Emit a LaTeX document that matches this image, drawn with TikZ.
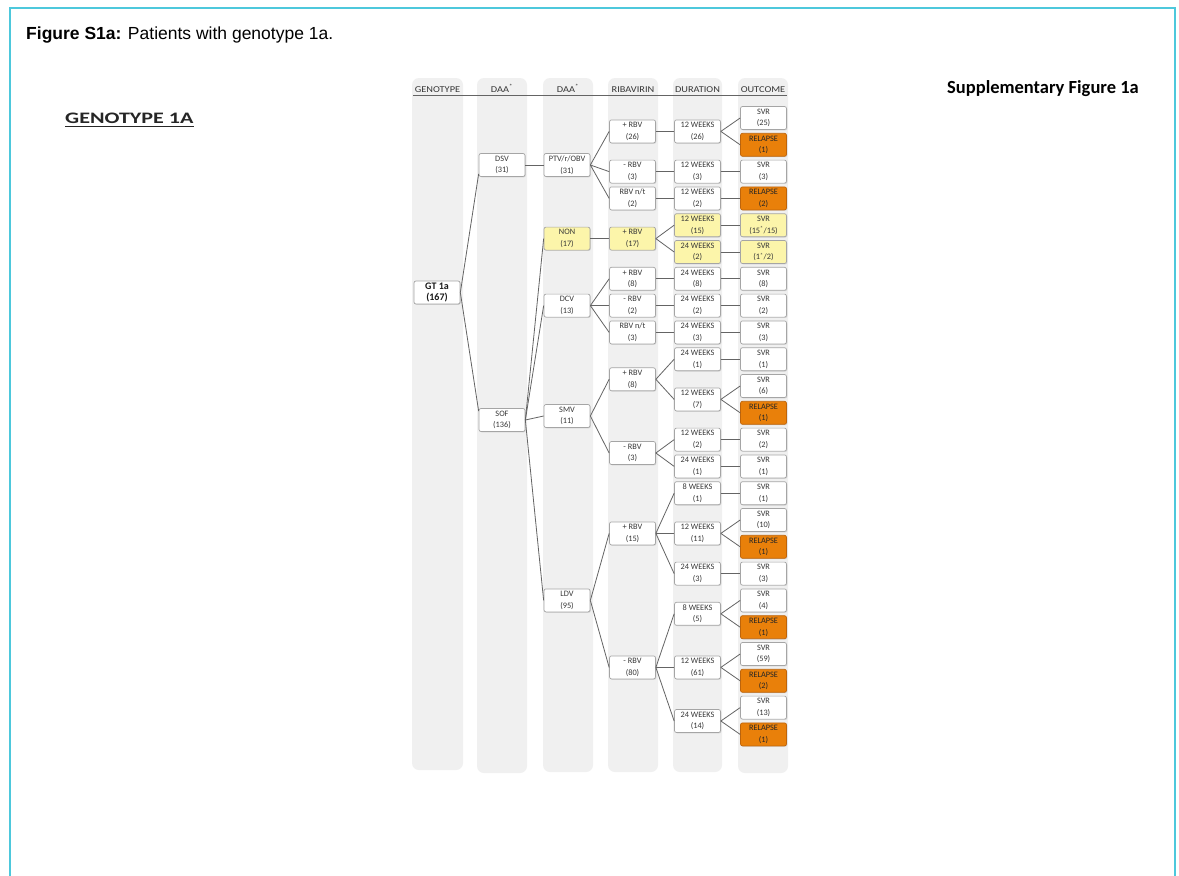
\documentclass[tikz,border=0pt]{standalone}
\usepackage{fontspec}
\setmainfont{Carlito}
\newfontfamily\arialf{Liberation Sans}
\newfontfamily\hdrf[FakeStretch=1.15]{Carlito}
\newfontfamily\gtitlef[FakeStretch=1.38]{Carlito}
\usetikzlibrary{calc,shadows}
\definecolor{framecyan}{RGB}{77,200,220}
\definecolor{colgray}{RGB}{240,240,240}
\definecolor{boxdraw}{RGB}{165,165,165}
\definecolor{linegray}{RGB}{100,100,100}
\definecolor{yelfill}{RGB}{252,245,170}
\definecolor{orfill}{RGB}{233,128,10}
\definecolor{ordraw}{RGB}{190,100,10}
\definecolor{hdrtext}{RGB}{55,55,55}
\begin{document}
\begin{tikzpicture}[x=1pt,y=-1pt,
  box/.style={draw=boxdraw, fill=white, rounded corners=2pt, line width=0.7pt,
    minimum width=46pt, minimum height=23pt, inner sep=0pt, align=center,
    font=\fontsize{8.3}{11.7}\selectfont, text=black!78,
    drop shadow={opacity=0.25, shadow xshift=0.8pt, shadow yshift=-0.8pt}},
  yel/.style={box, fill=yelfill},
  rel/.style={box, fill=orfill, draw=ordraw, text=black!85},
  conn/.style={draw=linegray, line width=0.8pt},
  colbg/.style={fill=colgray, rounded corners=7pt},
  hdr/.style={font=\hdrf\fontsize{9}{10}\selectfont, text=hdrtext, inner sep=0pt, anchor=base}]
\useasboundingbox (0,0) rectangle (1179,876);
\fill[white] (0,0) rectangle (1179,876);
% frame
\draw[framecyan, line width=1.5pt] (10,876) -- (10,8) -- (1175,8) -- (1175,876);
% titles
\node[anchor=base west, inner sep=0pt, font=\arialf\fontsize{17.5}{20}\selectfont] (title) at (26,39) {\textbf{Figure S1a:} Patients with genotype 1a.};
\node[anchor=base west, inner sep=0pt, font=\gtitlef\bfseries\fontsize{16}{18}\selectfont, text=black!85] (g1a) at (65,123) {GENOTYPE 1A};
\draw[black!85, line width=1.3pt] ($(g1a.base west)+(0,3.5)$) -- ($(g1a.base east)+(0,3.5)$);
\node[anchor=base west, inner sep=0pt, font=\bfseries\fontsize{18.5}{20}\selectfont] (supp) at (947,93) {Supplementary Figure 1a};
% columns
\path[colbg] (412,78) rectangle (463,770);
\path[colbg] (477,78) rectangle (527,773);
\path[colbg] (543,78) rectangle (593,772);
\path[colbg] (608,78) rectangle (658,772);
\path[colbg] (673,78) rectangle (722,772);
\path[colbg] (738,78) rectangle (788,773);
% headers
\node[hdr] (h1) at (437.5,92) {GENOTYPE};
\node[hdr] (h2) at (502,92) {DAA\textsuperscript{*}};
\node[hdr] (h3) at (568,92) {DAA\textsuperscript{*}};
\node[hdr] (h4) at (633,92) {RIBAVIRIN};
\node[hdr] (h5) at (697.5,92) {DURATION};
\node[hdr] (h6) at (763,92) {OUTCOME};
\draw[linegray, line width=0.8pt] (413,95.5) -- (787,95.5);
% genotype / DAA
\node[box, font=\bfseries\fontsize{10}{11.7}\selectfont, text=black!90] (gt) at (437,292.5) {GT 1a\\(167)};
\node[box] (dsv) at (502,165) {DSV\\(31)};
\node[box] (sof) at (502,420) {SOF\\(136)};
\node[box] (ptv) at (567,165) {PTV/r/OBV\\(31)};
\node[yel] (non) at (567,238.6) {NON\\(17)};
\node[box] (dcv) at (567,305.6) {DCV\\(13)};
\node[box] (smv) at (567,416) {SMV\\(11)};
\node[box] (ldv) at (567,600.4) {LDV\\(95)};
% ribavirin
\node[box] (b1) at (632.5,131.4) {+ RBV\\(26)};
\node[box] (b2) at (632.5,171.6) {- RBV\\(3)};
\node[box] (b3) at (632.5,198.4) {RBV n/t\\(2)};
\node[yel] (b4) at (632.5,238.6) {+ RBV\\(17)};
\node[box] (b5) at (632.5,278.8) {+ RBV\\(8)};
\node[box] (b6) at (632.5,305.6) {- RBV\\(2)};
\node[box] (b7) at (632.5,332.4) {RBV n/t\\(3)};
\node[box] (b8) at (632.5,379.3) {+ RBV\\(8)};
\node[box] (b9) at (632.5,453) {- RBV\\(3)};
\node[box] (b10) at (632.5,533.4) {+ RBV\\(15)};
\node[box] (b11) at (632.5,667.4) {- RBV\\(80)};
% duration
\node[box] (d1) at (697.5,131.4) {12 WEEKS\\(26)};
\node[box] (d2) at (697.5,171.6) {12 WEEKS\\(3)};
\node[box] (d3) at (697.5,198.4) {12 WEEKS\\(2)};
\node[yel] (d4) at (697.5,225.2) {12 WEEKS\\(15)};
\node[yel] (d5) at (697.5,252) {24 WEEKS\\(2)};
\node[box] (d6) at (697.5,278.8) {24 WEEKS\\(8)};
\node[box] (d7) at (697.5,305.6) {24 WEEKS\\(2)};
\node[box] (d8) at (697.5,332.4) {24 WEEKS\\(3)};
\node[box] (d9) at (697.5,359.2) {24 WEEKS\\(1)};
\node[box] (d10) at (697.5,399.4) {12 WEEKS\\(7)};
\node[box] (d11) at (697.5,439.6) {12 WEEKS\\(2)};
\node[box] (d12) at (697.5,466.4) {24 WEEKS\\(1)};
\node[box] (d13) at (697.5,493.2) {8 WEEKS\\(1)};
\node[box] (d14) at (697.5,533.4) {12 WEEKS\\(11)};
\node[box] (d15) at (697.5,573.6) {24 WEEKS\\(3)};
\node[box] (d16) at (697.5,613.8) {8 WEEKS\\(5)};
\node[box] (d17) at (697.5,667.4) {12 WEEKS\\(61)};
\node[box] (d18) at (697.5,721) {24 WEEKS\\(14)};
% outcome
\node[box] (o1) at (763.5,118) {SVR\\(25)};
\node[rel] (o2) at (763.5,144.8) {RELAPSE\\(1)};
\node[box] (o3) at (763.5,171.6) {SVR\\(3)};
\node[rel] (o4) at (763.5,198.4) {RELAPSE\\(2)};
\node[yel] (o5) at (763.5,225.2) {SVR\\(15\textsuperscript{*}/15)};
\node[yel] (o6) at (763.5,252) {SVR\\(1\textsuperscript{*}/2)};
\node[box] (o7) at (763.5,278.8) {SVR\\(8)};
\node[box] (o8) at (763.5,305.6) {SVR\\(2)};
\node[box] (o9) at (763.5,332.4) {SVR\\(3)};
\node[box] (o10) at (763.5,359.2) {SVR\\(1)};
\node[box] (o11) at (763.5,386) {SVR\\(6)};
\node[rel] (o12) at (763.5,412.8) {RELAPSE\\(1)};
\node[box] (o13) at (763.5,439.6) {SVR\\(2)};
\node[box] (o14) at (763.5,466.4) {SVR\\(1)};
\node[box] (o15) at (763.5,493.2) {SVR\\(1)};
\node[box] (o16) at (763.5,520) {SVR\\(10)};
\node[rel] (o17) at (763.5,546.8) {RELAPSE\\(1)};
\node[box] (o18) at (763.5,573.6) {SVR\\(3)};
\node[box] (o19) at (763.5,600.4) {SVR\\(4)};
\node[rel] (o20) at (763.5,627.2) {RELAPSE\\(1)};
\node[box] (o21) at (763.5,654) {SVR\\(59)};
\node[rel] (o22) at (763.5,680.8) {RELAPSE\\(2)};
\node[box] (o23) at (763.5,707.6) {SVR\\(13)};
\node[rel] (o24) at (763.5,734.4) {RELAPSE\\(1)};
% connectors
\draw[conn] (gt.east) -- ($(dsv.west)!0.75!(dsv.south west)$);
\draw[conn] (gt.east) -- ($(sof.west)!0.75!(sof.north west)$);
\foreach \a/\b in {dsv/ptv, sof/non, sof/dcv, sof/smv, sof/ldv,
  ptv/b1, ptv/b2, ptv/b3, non/b4, dcv/b5, dcv/b6, dcv/b7, smv/b8, smv/b9, ldv/b10, ldv/b11,
  b1/d1, b2/d2, b3/d3, b4/d4, b4/d5, b5/d6, b6/d7, b7/d8, b8/d9, b8/d10, b9/d11, b9/d12,
  b10/d13, b10/d14, b10/d15, b11/d16, b11/d17, b11/d18,
  d1/o1, d1/o2, d2/o3, d3/o4, d4/o5, d5/o6, d6/o7, d7/o8, d8/o9, d9/o10, d10/o11, d10/o12,
  d11/o13, d12/o14, d13/o15, d14/o16, d14/o17, d15/o18, d16/o19, d16/o20, d17/o21, d17/o22,
  d18/o23, d18/o24}
  \draw[conn] (\a.east) -- (\b.west);
\end{tikzpicture}
\end{document}
